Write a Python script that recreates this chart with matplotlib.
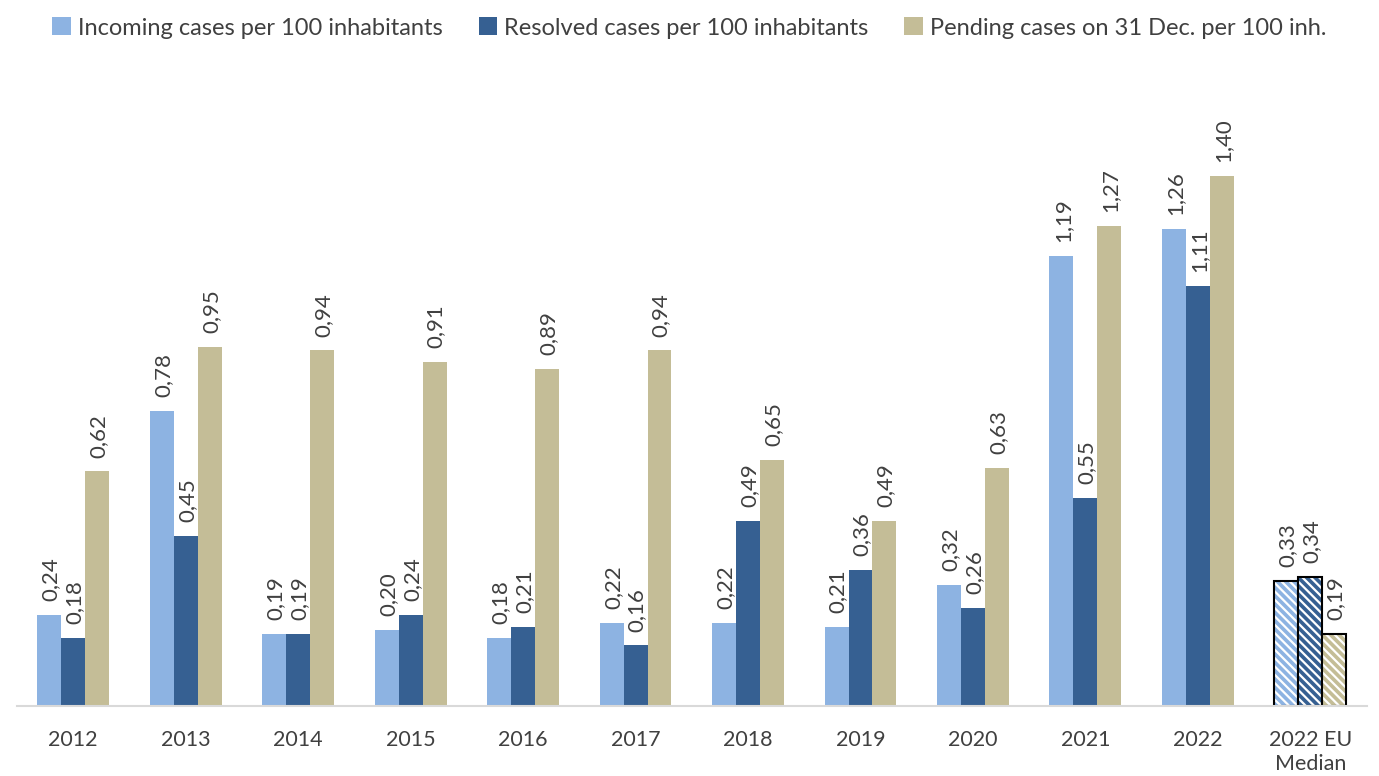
import matplotlib.pyplot as plt
import numpy as np

plt.rcParams.update({'font.family': ['Lato', 'DejaVu Sans'], 'font.size': 15,
                     'hatch.linewidth': 1.6})

categories = ['2012', '2013', '2014', '2015', '2016', '2017', '2018',
              '2019', '2020', '2021', '2022', '2022 EU\nMedian']
incoming = [0.24, 0.78, 0.19, 0.20, 0.18, 0.22, 0.22, 0.21, 0.32, 1.19, 1.26, 0.33]
resolved = [0.18, 0.45, 0.19, 0.24, 0.21, 0.16, 0.49, 0.36, 0.26, 0.55, 1.11, 0.34]
pending = [0.62, 0.95, 0.94, 0.91, 0.89, 0.94, 0.65, 0.49, 0.63, 1.27, 1.40, 0.19]

series = [
    ('Incoming cases per 100 inhabitants', incoming, '#8DB3E2'),
    ('Resolved cases per 100 inhabitants', resolved, '#366092'),
    ('Pending cases on 31 Dec. per 100 inh.', pending, '#C4BD97'),
]

text_color = '#404040'
fig = plt.figure(figsize=(13.79, 7.76), dpi=100)
ax = fig.add_axes([0.0123, 0.0902, 0.9787, 0.78])

x = np.arange(len(categories))
width = 0.213
n_reg = len(categories) - 1

for i, (name, vals, color) in enumerate(series):
    pos = x + (i - 1) * width
    ax.bar(pos[:n_reg], vals[:n_reg], width, color=color, label=name)
    # EU median bars: hatched with black outline
    ax.bar(pos[n_reg], vals[n_reg], width, color=color, edgecolor='white',
           hatch='\\\\\\\\', linewidth=0)
    ax.bar(pos[n_reg], vals[n_reg], width, fill=False, edgecolor='black',
           linewidth=1.5)
    for xp, v in zip(pos, vals):
        ax.annotate(f'{v:.2f}'.replace('.', ','), (xp, v), xytext=(1, 10),
                    textcoords='offset points', rotation=90, ha='center',
                    va='bottom', fontsize=16, color=text_color)

ax.set_xlim(-0.5, len(categories) - 0.5)
ax.set_ylim(0, 1.6)
ax.set_xticks(x)
ax.set_xticklabels(categories, color=text_color, fontsize=15.5, linespacing=1.3)
ax.tick_params(axis='x', length=0, pad=17)
ax.set_yticks([])
for s in ['left', 'right', 'top']:
    ax.spines[s].set_visible(False)
ax.spines['bottom'].set_color('#D9D9D9')
ax.spines['bottom'].set_linewidth(1.5)

leg = fig.legend(loc='upper center', bbox_to_anchor=(0.5, 1.005), ncol=3,
                 frameon=False, fontsize=17, handlelength=0.8, handleheight=0.8,
                 handletextpad=0.3, columnspacing=1.5)
for t in leg.get_texts():
    t.set_color(text_color)

plt.savefig('out.png', dpi=100)
